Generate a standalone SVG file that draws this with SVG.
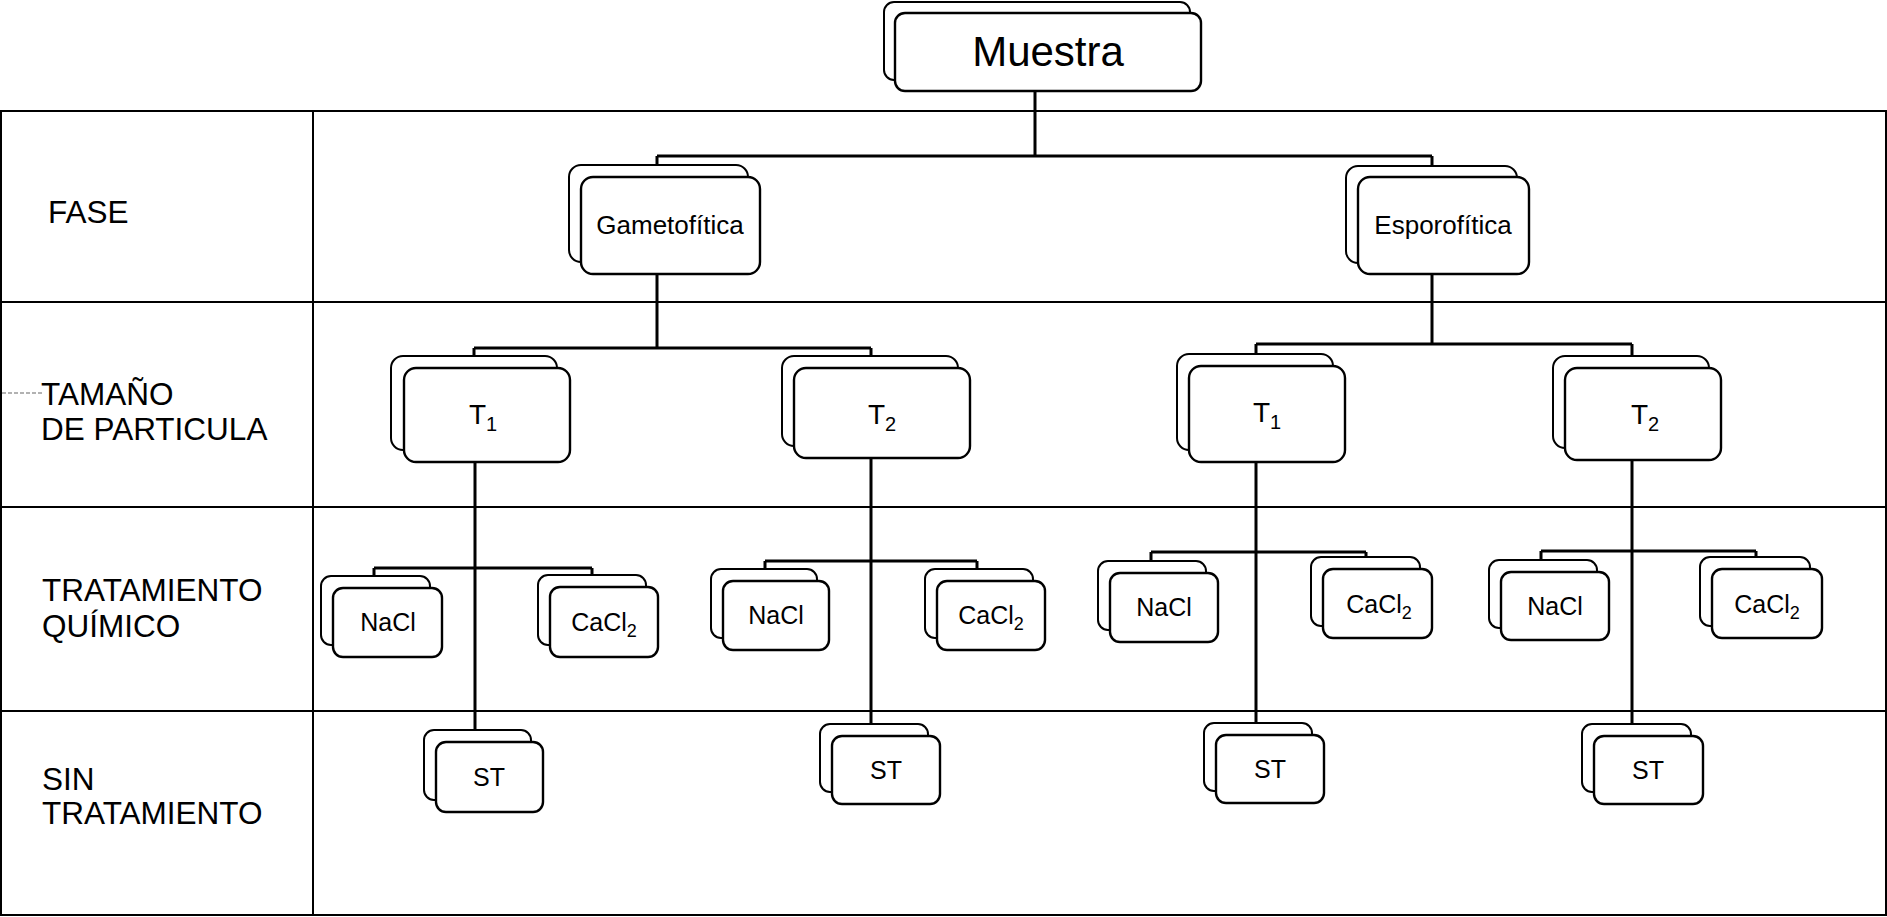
<svg xmlns="http://www.w3.org/2000/svg" width="1887" height="917" viewBox="0 0 1887 917">
<style>
text{font-family:"Liberation Sans",Arial,sans-serif;fill:#000;text-anchor:middle}
.lbl{text-anchor:start;font-size:31.5px}
.grid{stroke:#000;stroke-width:2;fill:none}
.back{fill:#fff;stroke:#000;stroke-width:2}
.front{fill:#fff;stroke:#000;stroke-width:2.4}
.conn{stroke:#000;stroke-width:3;fill:none}
.t2{font-size:26px}
.tt{font-size:28px}
.t3{font-size:25px}
</style>
<rect width="1887" height="917" fill="#fff"/>
<g id="table">
<rect class="grid" x="1" y="111" width="1885" height="804"/>
<line class="grid" x1="313" y1="111" x2="313" y2="915"/>
<line class="grid" x1="1" y1="302" x2="1886" y2="302"/>
<line class="grid" x1="1" y1="507" x2="1886" y2="507"/>
<line class="grid" x1="1" y1="711" x2="1886" y2="711"/>
<line x1="2" y1="393" x2="44" y2="393" stroke="#999" stroke-width="1.5" stroke-dasharray="4 2"/>
<text class="lbl" x="48" y="223">FASE</text>
<text class="lbl" x="41" y="405">TAMAÑO</text>
<text class="lbl" x="41" y="440">DE PARTICULA</text>
<text class="lbl" x="42" y="601">TRATAMIENTO</text>
<text class="lbl" x="42" y="637">QUÍMICO</text>
<text class="lbl" x="42" y="790">SIN</text>
<text class="lbl" x="42" y="824">TRATAMIENTO</text>
</g>
<g id="connectors">
<path class="conn" d="M1035 90V156M657 156H1432M657 156V165M1432 156V166"/>
<path class="conn" d="M657 274V348M474 348H871M474 348V356M871 348V356"/>
<path class="conn" d="M1432 274V344M1256 344H1632M1256 344V354M1632 344V356"/>
<path class="conn" d="M475 462V730M374 568H592M374 568V576M592 568V575"/>
<path class="conn" d="M871 458V724M765 561H977M765 561V569M977 561V569"/>
<path class="conn" d="M1256 462V723M1151 552H1366M1151 552V561M1366 552V557"/>
<path class="conn" d="M1632 460V724M1541 551H1756M1541 551V560M1756 551V557"/>
</g>
<g id="muestra">
<rect class="back" x="884" y="2" width="306" height="78" rx="10"/>
<rect class="front" x="895" y="13" width="306" height="78" rx="10"/>
<text x="1048" y="66" font-size="42">Muestra</text>
</g>
<g id="gametofitica">
<rect class="back" x="569" y="165" width="179" height="97" rx="12"/>
<rect class="front" x="581" y="177" width="179" height="97" rx="12"/>
<text class="t2" x="670" y="234">Gametofítica</text>
</g>
<g id="esporofitica">
<rect class="back" x="1346" y="166" width="171" height="97" rx="12"/>
<rect class="front" x="1358" y="177" width="171" height="97" rx="12"/>
<text class="t2" x="1443" y="234">Esporofítica</text>
</g>
<g id="t1-gam">
<rect class="back" x="391" y="356" width="166" height="94" rx="12"/>
<rect class="front" x="404" y="368" width="166" height="94" rx="12"/>
<text class="tt" x="483" y="424">T<tspan font-size="20" dy="7">1</tspan></text>
</g>
<g id="t2-gam">
<rect class="back" x="782" y="356" width="176" height="90" rx="12"/>
<rect class="front" x="794" y="368" width="176" height="90" rx="12"/>
<text class="tt" x="882" y="424">T<tspan font-size="20" dy="7">2</tspan></text>
</g>
<g id="t1-esp">
<rect class="back" x="1177" y="354" width="156" height="96" rx="12"/>
<rect class="front" x="1189" y="366" width="156" height="96" rx="12"/>
<text class="tt" x="1267" y="422">T<tspan font-size="20" dy="7">1</tspan></text>
</g>
<g id="t2-esp">
<rect class="back" x="1553" y="356" width="156" height="92" rx="12"/>
<rect class="front" x="1565" y="368" width="156" height="92" rx="12"/>
<text class="tt" x="1645" y="424">T<tspan font-size="20" dy="7">2</tspan></text>
</g>
<g id="nacl-1">
<rect class="back" x="321" y="576" width="109" height="69" rx="10"/>
<rect class="front" x="333" y="588" width="109" height="69" rx="10"/>
<text class="t3" x="388" y="631">NaCl</text>
</g>
<g id="cacl2-1">
<rect class="back" x="538" y="575" width="108" height="70" rx="10"/>
<rect class="front" x="550" y="587" width="108" height="70" rx="10"/>
<text class="t3" x="604" y="631">CaCl<tspan font-size="18" dy="6">2</tspan></text>
</g>
<g id="nacl-2">
<rect class="back" x="711" y="569" width="106" height="69" rx="10"/>
<rect class="front" x="723" y="581" width="106" height="69" rx="10"/>
<text class="t3" x="776" y="624">NaCl</text>
</g>
<g id="cacl2-2">
<rect class="back" x="925" y="569" width="108" height="69" rx="10"/>
<rect class="front" x="937" y="581" width="108" height="69" rx="10"/>
<text class="t3" x="991" y="624">CaCl<tspan font-size="18" dy="6">2</tspan></text>
</g>
<g id="nacl-3">
<rect class="back" x="1098" y="561" width="108" height="69" rx="10"/>
<rect class="front" x="1110" y="573" width="108" height="69" rx="10"/>
<text class="t3" x="1164" y="616">NaCl</text>
</g>
<g id="cacl2-3">
<rect class="back" x="1311" y="557" width="109" height="69" rx="10"/>
<rect class="front" x="1323" y="569" width="109" height="69" rx="10"/>
<text class="t3" x="1379" y="613">CaCl<tspan font-size="18" dy="6">2</tspan></text>
</g>
<g id="nacl-4">
<rect class="back" x="1489" y="560" width="108" height="68" rx="10"/>
<rect class="front" x="1501" y="572" width="108" height="68" rx="10"/>
<text class="t3" x="1555" y="615">NaCl</text>
</g>
<g id="cacl2-4">
<rect class="back" x="1700" y="557" width="110" height="69" rx="10"/>
<rect class="front" x="1712" y="569" width="110" height="69" rx="10"/>
<text class="t3" x="1767" y="613">CaCl<tspan font-size="18" dy="6">2</tspan></text>
</g>
<g id="st-1">
<rect class="back" x="424" y="730" width="107" height="70" rx="10"/>
<rect class="front" x="436" y="742" width="107" height="70" rx="10"/>
<text class="t3" x="489" y="786">ST</text>
</g>
<g id="st-2">
<rect class="back" x="820" y="724" width="108" height="68" rx="10"/>
<rect class="front" x="832" y="736" width="108" height="68" rx="10"/>
<text class="t3" x="886" y="779">ST</text>
</g>
<g id="st-3">
<rect class="back" x="1204" y="723" width="108" height="68" rx="10"/>
<rect class="front" x="1216" y="735" width="108" height="68" rx="10"/>
<text class="t3" x="1270" y="778">ST</text>
</g>
<g id="st-4">
<rect class="back" x="1582" y="724" width="109" height="68" rx="10"/>
<rect class="front" x="1594" y="736" width="109" height="68" rx="10"/>
<text class="t3" x="1648" y="779">ST</text>
</g>
</svg>
